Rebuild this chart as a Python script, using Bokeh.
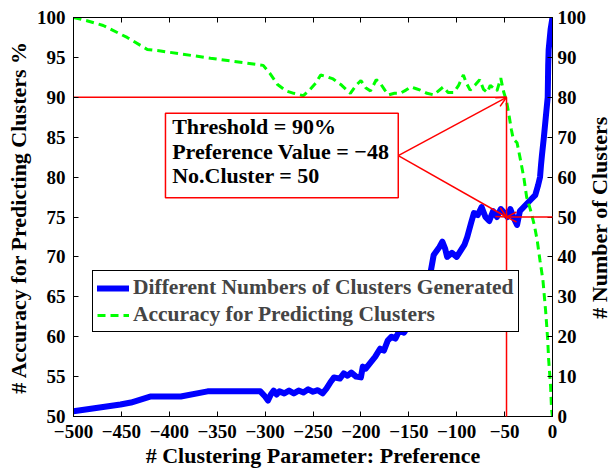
import math
from bokeh.plotting import figure
from bokeh.models import (Range1d, LinearAxis, FixedTicker, Legend, LegendItem,
                          Arrow, OpenHead, BoxAnnotation, Label)
from bokeh.embed import file_html
from bokeh.resources import INLINE

# Number of clusters generated for each preference value (right axis)
pref_clusters = [-500, -480, -451, -440, -420, -388, -360, -305, -300, -297, -294, -291,
                 -288, -285, -280, -275, -270, -265, -260, -255, -250, -245, -240, -236,
                 -232, -228, -222, -218, -214, -210, -205, -200, -198, -195, -190, -185,
                 -180, -176, -172, -168, -164, -160, -155, -151, -146, -140, -138, -130,
                 -127, -124, -118, -115, -112, -110, -105, -100, -96, -92, -89, -85, -82,
                 -78, -74, -70, -66, -62, -58, -54, -50, -47, -44, -40, -37, -34, -30,
                 -26, -22, -18, -15, -13, -12, -11, -9, -7, -5, -4.5, -4, -2, 0]
n_clusters = [1.3, 2.0, 3.0, 3.5, 5.0, 5.0, 6.3, 6.3, 5.0, 4.0, 5.5, 6.5,
              5.5, 6.3, 5.8, 6.5, 5.8, 6.5, 6.0, 6.8, 6.2, 6.6, 5.8, 7.0,
              8.5, 9.8, 9.5, 10.8, 10.2, 11.0, 10.0, 9.8, 12.5, 12.0, 13.5, 15.0,
              17.0, 16.5, 19.0, 20.0, 19.5, 21.5, 21.0, 22.5, 23.0, 25.0, 35.5, 36.0,
              36.5, 40.5, 42.5, 43.8, 42.0, 40.0, 41.0, 40.0, 41.5, 43.0, 45.0, 48.5, 51.0,
              50.5, 52.5, 50.0, 49.0, 51.5, 50.0, 52.0, 51.0, 50.0, 52.0, 49.5, 48.0, 51.5, 52.5,
              53.5, 54.5, 55.5, 58.0, 60.0, 63.0, 65.5, 70.0, 75.0, 80.0, 88.0, 92.0, 97.0, 100.0]

# Accuracy (%) for predicting clusters (left axis)
pref_accuracy = [-500, -486, -469, -444, -423, -409, -357, -302, -295, -287, -278, -270,
                 -260, -253, -247, -242, -236, -229, -220, -211, -205, -200, -195, -190,
                 -184, -180, -175, -171, -165, -159, -153, -148, -143, -138, -131, -124,
                 -119, -114, -109, -103, -98, -93, -90, -86, -81, -76, -72, -68, -65, -62,
                 -58, -54, -51, -48, -46, -43, -41, -37, -34, -30, -27, -23, -19, -16, -13,
                 -10, -7, -5, -4, -2, -1, 0]
accuracy = [100, 99.6, 99.0, 97.5, 96.0, 95.8, 94.9, 94.0, 93.0, 91.6, 90.8, 90.5,
            90.2, 91.0, 91.8, 92.8, 92.6, 92.3, 91.5, 90.5, 91.5, 92.1, 91.2, 90.8,
            92.2, 91.8, 90.9, 90.3, 90.5, 90.5, 90.9, 91.3, 91.1, 90.9, 90.5, 90.3,
            90.8, 91.3, 90.6, 90.6, 91.5, 92.8, 91.8, 90.9, 91.5, 92.2, 91.0, 90.6, 91.5, 91.2,
            90.8, 92.4, 90.7, 89.5, 88.2, 86.0, 84.8, 84.3, 82.5, 80.0, 77.5, 75.9, 74.0, 72.1, 69.5,
            67.1, 63.0, 59.6, 57.1, 53.8, 50.9, 50.0]

# Chosen operating point
threshold = 90
pref_value = -48
n_cluster_at_pref = 50

x_ticks = [-500, -450, -400, -350, -300, -250, -200, -150, -100, -50, 0]
x_tick_labels = ["\u2212500", "\u2212450", "\u2212400", "\u2212350", "\u2212300", "\u2212250",
                 "\u2212200", "\u2212150", "\u2212100", "\u221250", "0"]
left_ticks = [50, 55, 60, 65, 70, 75, 80, 85, 90, 95, 100]
right_ticks = [0, 10, 20, 30, 40, 50, 60, 70, 80, 90, 100]

FONT = "Liberation Serif"
BLUE = "#0000ff"
GREEN = "#00ff00"
RED = "#ff0000"


def clusters_to_left(v):
    # right axis (0..100) mapped onto the left axis (50..100)
    return 50 + v * 0.5


p = figure(width=614, height=470, output_backend="svg", toolbar_location=None,
           x_range=Range1d(-500, 0), y_range=Range1d(50, 100),
           min_border_left=73, min_border_right=62, min_border_top=17, min_border_bottom=54)
p.extra_y_ranges = {"clusters": Range1d(0, 100)}
p.xgrid.visible = False
p.ygrid.visible = False
p.outline_line_color = "black"
p.outline_line_width = 1
p.outline_line_alpha = 1.0
p.background_fill_color = "white"
p.border_fill_color = "white"


def style_axis(ax, standoff):
    ax.major_tick_in = 5
    ax.major_tick_out = 0
    ax.minor_tick_line_color = None
    ax.axis_line_color = "black"
    ax.major_tick_line_color = "black"
    ax.major_label_text_font = FONT
    ax.major_label_text_font_style = "bold"
    ax.major_label_text_font_size = "19px"
    ax.major_label_text_color = "black"
    ax.major_label_standoff = standoff
    ax.axis_label_text_font = FONT
    ax.axis_label_text_font_style = "bold"
    ax.axis_label_text_font_size = "22px"
    ax.axis_label_text_color = "black"


xa = p.xaxis[0]
style_axis(xa, 8)
xa.ticker = FixedTicker(ticks=x_ticks)
xa.major_label_overrides = dict(zip(x_ticks, x_tick_labels))
xa.axis_label = "# Clustering Parameter: Preference"
xa.axis_label_standoff = 2

ya = p.yaxis[0]
style_axis(ya, 8)
ya.ticker = FixedTicker(ticks=left_ticks)
ya.axis_label = "# Accuracy for Predicting Clusters %"
ya.axis_label_standoff = 3

ra = LinearAxis(y_range_name="clusters", ticker=FixedTicker(ticks=right_ticks))
style_axis(ra, 5)
p.add_layout(ra, "right")

# Right-hand axis title, reading upwards, stacked outside the right tick labels
p.add_layout(Label(x=10, y=199, x_units="screen", y_units="screen",
                   text="# Number of Clusters", angle=math.pi / 2,
                   text_font=FONT, text_font_style="bold", text_font_size="22px",
                   text_align="center", text_baseline="middle", text_color="black"),
             "right")

ta = LinearAxis(ticker=FixedTicker(ticks=x_ticks))
style_axis(ta, 0)
ta.major_label_text_color = None
p.add_layout(ta, "above")

# Data series
r_blue = p.line(pref_clusters, n_clusters, y_range_name="clusters",
                line_color=BLUE, line_width=6, line_join="round", line_cap="round")
r_green = p.line(pref_accuracy, accuracy, line_color=GREEN, line_width=3,
                 line_dash="8 5")

# Threshold guide lines
p.line([x_ticks[0], pref_value], [threshold, threshold], line_color=RED, line_width=1.5)
p.add_layout(Arrow(end=None, x_start=pref_value, y_start=threshold,
                   x_end=pref_value, y_end=49.5,
                   line_color=RED, line_width=1.5))
p.add_layout(Arrow(end=OpenHead(size=10, line_color=RED, line_width=1.5),
                   x_start=3.5, y_start=n_cluster_at_pref,
                   x_end=pref_value, y_end=n_cluster_at_pref, y_range_name="clusters",
                   line_color=RED, line_width=1.5))

# Annotation box with pointer arrows
box_left, box_right, box_top, box_bottom = -404, -161, 88.0, 77.4
p.add_layout(BoxAnnotation(left=box_left, right=box_right, top=box_top, bottom=box_bottom,
                           fill_color="white", fill_alpha=1.0,
                           line_color=RED, line_alpha=1.0, line_width=1.5))
box_mid = (box_top + box_bottom) / 2
for y_end in (threshold, clusters_to_left(n_cluster_at_pref)):
    p.add_layout(Arrow(end=OpenHead(size=10, line_color=RED, line_width=1.5),
                       x_start=box_right, y_start=box_mid,
                       x_end=pref_value, y_end=y_end,
                       line_color=RED, line_width=1.5))

lines = [f"Threshold = {threshold}%",
         f"Preference Value = \u2212{abs(pref_value)}",
         f"No.Cluster = {n_cluster_at_pref}"]
for i, t in enumerate(lines):
    p.add_layout(Label(x=-397, y=86.3 - i * 3.06, text=t, text_font=FONT,
                       text_font_style="bold", text_font_size="22px",
                       text_baseline="middle", text_align="left", text_color="black"))

legend = Legend(items=[LegendItem(label="Different Numbers of Clusters Generated", renderers=[r_blue]),
                       LegendItem(label="Accuracy for Predicting Clusters", renderers=[r_green])],
                location=(19, 84))
legend.label_text_font = FONT
legend.label_text_font_style = "bold"
legend.label_text_font_size = "21.5px"
legend.border_line_color = "black"
legend.border_line_alpha = 1.0
legend.border_line_width = 1
legend.background_fill_color = "white"
legend.background_fill_alpha = 1.0
legend.glyph_width = 32
legend.glyph_height = 18
legend.label_height = 20
legend.label_standoff = 4
legend.padding = 4
legend.spacing = 2
legend.margin = 0
p.add_layout(legend, "center")

open("out.html", "w").write(file_html(p, INLINE))
